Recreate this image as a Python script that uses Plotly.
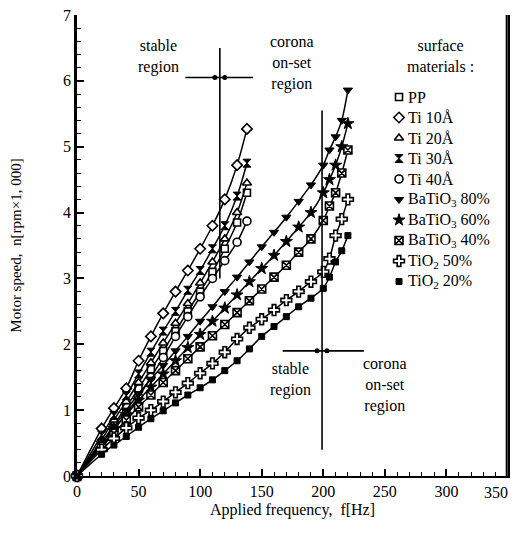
import plotly.graph_objects as go

# ---------------- data ----------------
freq_left = [0, 20, 30, 40, 50, 60, 70, 80, 90, 100, 110, 120, 130, 138]
pp      = [0, 0.50, 0.78, 1.05, 1.33, 1.62, 1.90, 2.20, 2.50, 2.80, 3.10, 3.45, 3.85, 4.30]
ti_10   = [0, 0.72, 1.03, 1.33, 1.75, 2.12, 2.47, 2.80, 3.12, 3.45, 3.80, 4.20, 4.72, 5.27]
ti_20   = [0, 0.55, 0.85, 1.13, 1.42, 1.72, 2.02, 2.32, 2.62, 2.93, 3.25, 3.60, 4.00, 4.45]
ti_30   = [0, 0.62, 0.92, 1.22, 1.55, 1.88, 2.20, 2.50, 2.82, 3.12, 3.45, 3.80, 4.25, 4.75]
ti_40   = [0, 0.45, 0.70, 0.95, 1.20, 1.50, 1.80, 2.12, 2.42, 2.72, 3.00, 3.27, 3.55, 3.87]

freq_right = [0, 20, 30, 40, 50, 60, 70, 80, 90, 100, 110, 120, 130, 140, 150,
              160, 170, 180, 190, 200, 205, 210, 215, 220]
batio3_80 = [0, 0.50, 0.75, 1.00, 1.25, 1.47, 1.68, 1.90, 2.12, 2.35, 2.57, 2.80, 3.02,
             3.25, 3.48, 3.70, 3.93, 4.17, 4.42, 4.72, 4.95, 5.15, 5.40, 5.86]
batio3_60 = [0, 0.50, 0.72, 0.93, 1.15, 1.35, 1.55, 1.75, 1.95, 2.15, 2.35, 2.55, 2.75,
             2.95, 3.15, 3.35, 3.56, 3.78, 4.00, 4.30, 4.50, 4.72, 5.00, 5.35]
batio3_40 = [0, 0.45, 0.65, 0.85, 1.05, 1.23, 1.42, 1.60, 1.78, 1.96, 2.13, 2.30, 2.48,
             2.66, 2.84, 3.02, 3.20, 3.40, 3.60, 3.88, 4.10, 4.30, 4.60, 4.95]
tio2_50   = [0, 0.40, 0.57, 0.73, 0.88, 1.00, 1.13, 1.27, 1.41, 1.56, 1.71, 1.88, 2.08,
             2.25, 2.38, 2.52, 2.67, 2.80, 2.95, 3.10, 3.30, 3.65, 3.90, 4.20]
tio2_20   = [0, 0.33, 0.47, 0.60, 0.74, 0.87, 0.99, 1.11, 1.23, 1.34, 1.46, 1.60, 1.75,
             1.93, 2.12, 2.27, 2.42, 2.57, 2.70, 2.85, 3.02, 3.25, 3.42, 3.65]

legend_labels = ["PP", "Ti 10Å", "Ti 20Å", "Ti 30Å", "Ti 40Å",
                 "BaTiO<sub>3</sub> 80%", "BaTiO<sub>3</sub> 60%", "BaTiO<sub>3</sub> 40%",
                 "TiO<sub>2</sub> 50%", "TiO<sub>2</sub> 20%"]

x_ticks = [0, 50, 100, 150, 200, 250, 300, 350]
y_ticks = [0, 1, 2, 3, 4, 5, 6, 7]

# region boundaries (Hz)
boundary_left, boundary_right = 116, 199

# ---------------- style ----------------
FONT = "Liberation Serif"
OFF = 8                      # page body margin of the browser
W, H = 518 - OFF, 512
ML, MR, MT = 77 - OFF, 10, 15 - OFF
MB = H - (476 - OFF)
XR, YR = (0, 350), (0, 7)

def px_to_x(px):
    return XR[0] + (px - OFF - ML) / (W - ML - MR) * (XR[1] - XR[0])

def py_to_y(py):
    return YR[1] - (py - OFF - MT) / (H - MT - MB) * (YR[1] - YR[0])

series = [
    (freq_left, pp,    dict(symbol="square", color="white", size=7, line=dict(color="black", width=1.6))),
    (freq_left, ti_10, dict(symbol="diamond", color="white", size=8, line=dict(color="black", width=1.6))),
    (freq_left, ti_20, dict(symbol="triangle-up", color="white", size=8, line=dict(color="black", width=1.6))),
    (freq_left, ti_30, dict(symbol="hourglass", color="black", size=8, line=dict(color="black", width=1))),
    (freq_left, ti_40, dict(symbol="circle", color="white", size=8, line=dict(color="black", width=1.6))),
    (freq_right, batio3_80, dict(symbol="triangle-down", color="black", size=8, line=dict(color="black", width=1))),
    (freq_right, batio3_60, dict(symbol="star", color="black", size=9, line=dict(color="black", width=1))),
    (freq_right, batio3_40, dict(symbol="square-x", color="white", size=8, line=dict(color="black", width=1.6))),
    (freq_right, tio2_50, dict(symbol="cross", color="white", size=9, line=dict(color="black", width=1.6))),
    (freq_right, tio2_20, dict(symbol="square", color="black", size=6, line=dict(color="black", width=1))),
]

fig = go.Figure()
for (fx, fy, mk), name in zip(series, legend_labels):
    fig.add_trace(go.Scatter(x=fx, y=fy, mode="lines+markers", name=name,
                             line=dict(color="black", width=1.5, shape="spline", smoothing=0.8),
                             marker=mk, cliponaxis=False, showlegend=False))

# manual legend (inside plot area)
leg_x_px, leg_y0_px, leg_dy_px = 399, 97, 20.5
for i, ((fx, fy, mk), name) in enumerate(zip(series, legend_labels)):
    yy = py_to_y(leg_y0_px + i * leg_dy_px)
    fig.add_trace(go.Scatter(x=[px_to_x(leg_x_px)], y=[yy], mode="markers",
                             marker=mk, showlegend=False, hoverinfo="skip"))
    fig.add_annotation(x=px_to_x(leg_x_px + 7), y=yy, text=name, showarrow=False,
                       xanchor="left", yanchor="middle",
                       font=dict(family=FONT, size=16, color="black"))

fig.add_annotation(x=px_to_x(440), y=py_to_y(56), text="surface<br>materials :",
                   showarrow=False, xanchor="center", yanchor="middle",
                   font=dict(family=FONT, size=16, color="black"))

# region boundary markers
line_style = dict(color="black", width=1.6)
fig.add_shape(type="line", x0=boundary_left, x1=boundary_left, y0=3.0, y1=6.5, line=line_style)
fig.add_shape(type="line", x0=boundary_left - 28, x1=boundary_left + 27, y0=6.05, y1=6.05, line=line_style)
fig.add_shape(type="line", x0=boundary_right, x1=boundary_right, y0=0.4, y1=5.55, line=line_style)
fig.add_shape(type="line", x0=boundary_right - 32, x1=boundary_right + 34, y0=1.9, y1=1.9, line=line_style)
fig.add_trace(go.Scatter(x=[boundary_left - 4, boundary_left + 4, boundary_right - 4, boundary_right + 4],
                         y=[6.05, 6.05, 1.9, 1.9], mode="markers",
                         marker=dict(symbol="circle", size=5, color="black"),
                         showlegend=False, hoverinfo="skip"))

# right frame line (kept inside the visible page width)
fig.add_shape(type="line", xref="paper", yref="paper", x0=0.997, x1=0.997, y0=0, y1=1,
              line=dict(color="black", width=2))

ann_font = dict(family=FONT, size=16, color="black")
fig.add_annotation(x=px_to_x(158), y=py_to_y(56), text="stable<br>region", showarrow=False,
                   font=ann_font, align="center")
fig.add_annotation(x=px_to_x(292), y=py_to_y(63), text="corona<br>on-set<br>region", showarrow=False,
                   font=ann_font, align="center")
fig.add_annotation(x=px_to_x(290), y=py_to_y(379), text="stable<br>region", showarrow=False,
                   font=ann_font, align="center")
fig.add_annotation(x=px_to_x(385), y=py_to_y(385), text="corona<br>on-set<br>region", showarrow=False,
                   font=ann_font, align="center")

# last x tick label kept inside the visible page width
x_ticktext = [str(v) for v in x_ticks[:-1]] + [""]
fig.add_annotation(x=x_ticks[-1], xref="x", y=0, yref="paper", text=str(x_ticks[-1]),
                   showarrow=False, xanchor="right", yanchor="middle", xshift=2, yshift=-16,
                   font=dict(family=FONT, size=16, color="black"))

fig.update_layout(
    width=W, height=H,
    margin=dict(l=ML, r=MR, t=MT, b=MB),
    paper_bgcolor="white", plot_bgcolor="white",
    showlegend=False,
    font=dict(family=FONT, color="black"),
)
fig.update_xaxes(range=list(XR), tickvals=x_ticks, ticktext=x_ticktext, ticks="inside", ticklen=7,
                 tickwidth=1.5, tickcolor="black", showline=True, linewidth=2, linecolor="black",
                 showgrid=False, zeroline=False, mirror=False, automargin=False,
                 ticklabeloverflow="allow",
                 minor=dict(ticks="inside", ticklen=4, dtick=10, tickcolor="black", tickwidth=1.2),
                 tickfont=dict(family=FONT, size=16, color="black"),
                 title=dict(text="Applied frequency,  f[Hz]", font=dict(family=FONT, size=16), standoff=5))
fig.update_yaxes(range=list(YR), tickvals=y_ticks, ticks="inside", ticklen=7, tickwidth=1.5,
                 tickcolor="black", showline=True, linewidth=2.5, linecolor="black",
                 showgrid=False, zeroline=False, mirror=True, automargin=False,
                 ticklabeloverflow="allow",
                 minor=dict(ticks="inside", ticklen=4, dtick=0.2, tickcolor="black", tickwidth=1.2),
                 tickfont=dict(family=FONT, size=16, color="black"),
                 title=dict(text="Motor speed,  n[rpm×1, 000]", font=dict(family=FONT, size=15), standoff=42))

fig.write_html("out.html")
